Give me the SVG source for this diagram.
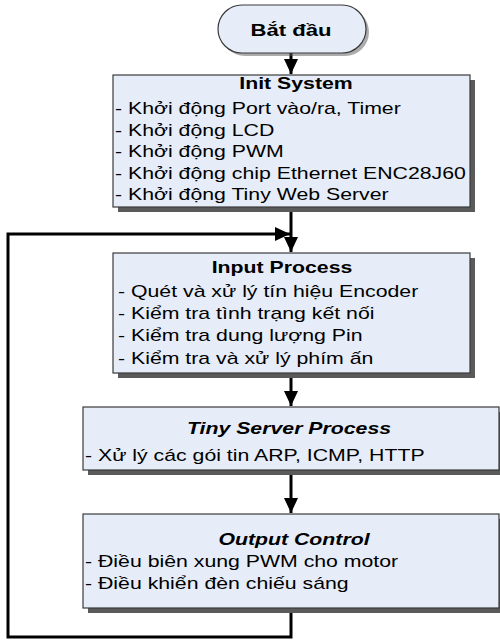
<svg xmlns="http://www.w3.org/2000/svg" width="500" height="640" viewBox="0 0 500 640">
<style>
.box{fill:#e6edf8;stroke:#3a3a3a;stroke-width:1.2}
.shadow{fill:#5a5a5a}
.t{font-family:"Liberation Sans",Arial,sans-serif;font-size:16px;fill:#000}
.b{font-weight:bold}
.bi{font-weight:bold;font-style:italic}
.conn{fill:none;stroke:#000;stroke-width:3}
</style>
<defs>
<marker id="arr" markerUnits="userSpaceOnUse" markerWidth="16" markerHeight="14" refX="15" refY="7" orient="auto">
<path d="M0,0 L15,7 L0,14 Z" fill="#000"/>
</marker>
</defs>
<rect width="500" height="640" fill="#fff"/>
<g id="connectors">
<path class="conn" d="M291 53 V74" marker-end="url(#arr)"/>
<path class="conn" d="M291 207 V252" marker-end="url(#arr)"/>
<path class="conn" d="M291 373 V406" marker-end="url(#arr)"/>
<path class="conn" d="M291 470 V513" marker-end="url(#arr)"/>
<path class="conn" d="M291 608 V637 H8 V234 H290" marker-end="url(#arr)"/>
</g>
<g id="start">
<rect class="shadow" x="221" y="8" width="148" height="48" rx="24" opacity="0.5"/>
<rect class="box" x="218" y="5" width="148" height="48" rx="24"/>
<g transform="translate(291 0) scale(1.38 1)"><text class="t b" x="0" y="36" text-anchor="middle" font-size="16">Bắt đầu</text></g>
</g>
<g id="init">
<rect class="shadow" x="118" y="80" width="357" height="132"/>
<rect class="box" x="113" y="75" width="357" height="132"/>
<g transform="translate(296 0) scale(1.33 1)"><text class="t b" x="0" y="89" text-anchor="middle">Init System</text></g>
<g transform="translate(115 0) scale(1.33 1)">
<text class="t" x="0" y="114">- Khởi động Port vào/ra, Timer</text>
<text class="t" x="0" y="136">- Khởi động LCD</text>
<text class="t" x="0" y="157.5">- Khởi động PWM</text>
<text class="t" x="0" y="179">- Khởi động chip Ethernet ENC28J60</text>
<text class="t" x="0" y="200">- Khởi động Tiny Web Server</text>
</g>
</g>
<g id="input">
<rect class="shadow" x="118" y="258" width="357" height="120"/>
<rect class="box" x="113" y="253" width="357" height="120"/>
<g transform="translate(282 0) scale(1.33 1)"><text class="t b" x="0" y="273" text-anchor="middle">Input Process</text></g>
<g transform="translate(118 0) scale(1.33 1)">
<text class="t" x="0" y="297">- Quét và xử lý tín hiệu Encoder</text>
<text class="t" x="0" y="319.5">- Kiểm tra tình trạng kết nối</text>
<text class="t" x="0" y="341.5">- Kiểm tra dung lượng Pin</text>
<text class="t" x="0" y="364">- Kiểm tra và xử lý phím ấn</text>
</g>
</g>
<g id="tiny">
<rect class="shadow" x="88" y="412" width="416" height="63"/>
<rect class="box" x="83" y="407" width="416" height="63"/>
<g transform="translate(289 0) scale(1.33 1)"><text class="t bi" x="0" y="434" text-anchor="middle">Tiny Server Process</text></g>
<g transform="translate(85 0) scale(1.33 1)">
<text class="t" x="0" y="461">- Xử lý các gói tin ARP, ICMP, HTTP</text>
</g>
</g>
<g id="output">
<rect class="shadow" x="88" y="519" width="416" height="94"/>
<rect class="box" x="83" y="514" width="416" height="94"/>
<g transform="translate(294 0) scale(1.33 1)"><text class="t bi" x="0" y="545" text-anchor="middle">Output Control</text></g>
<g transform="translate(85 0) scale(1.33 1)">
<text class="t" x="0" y="567">- Điều biên xung PWM cho motor</text>
<text class="t" x="0" y="589">- Điều khiển đèn chiếu sáng</text>
</g>
</g>
</svg>
